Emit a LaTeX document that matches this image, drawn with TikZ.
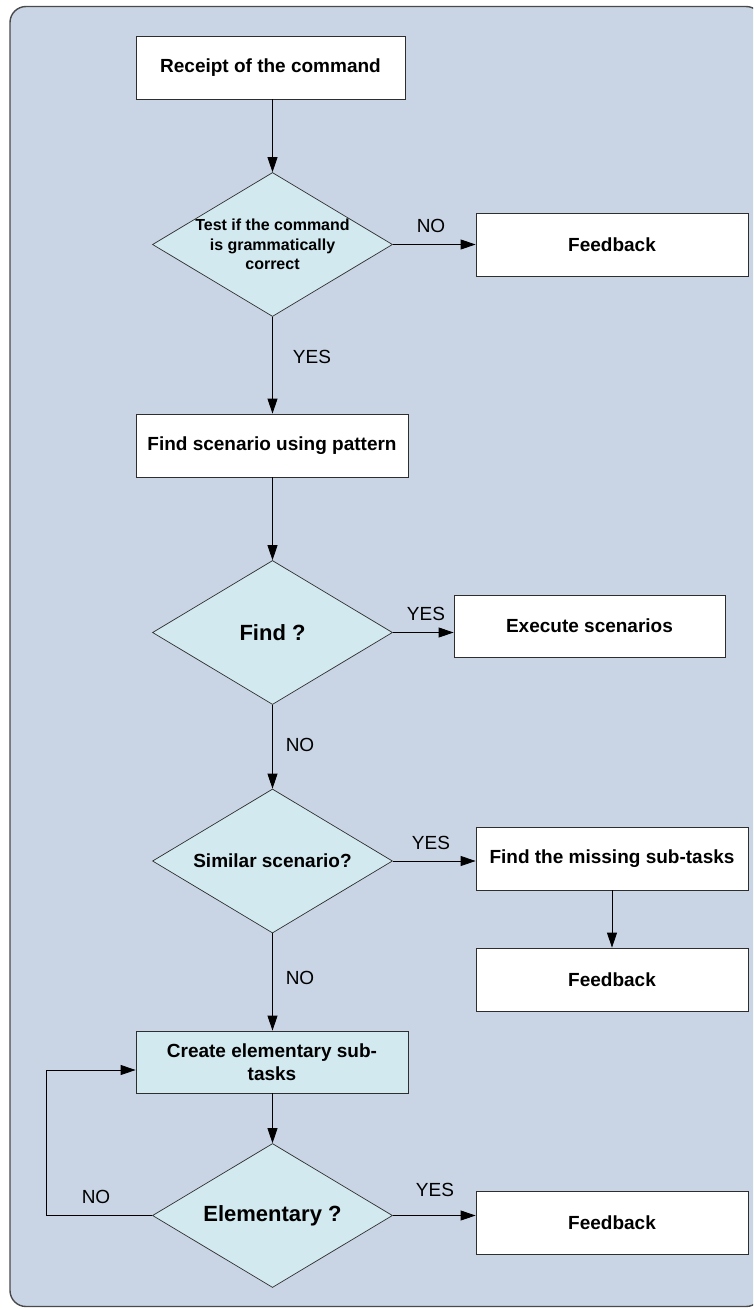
\documentclass[tikz,border=0pt]{standalone}
\usepackage{fontspec}
\setmainfont{Liberation Sans}
\usetikzlibrary{shapes.geometric,arrows.meta}

\definecolor{panelfill}{HTML}{C9D5E5}
\definecolor{paneledge}{HTML}{4A4A4A}
\definecolor{lightcyan}{HTML}{D2E9EF}
\definecolor{boxedge}{HTML}{2E2E2E}

\begin{document}
\begin{tikzpicture}[x=1pt,y=-1pt,
  process/.style={draw=boxedge, line width=0.8pt, fill=white, inner sep=0pt,
    minimum width=272pt, minimum height=63pt, align=center,
    font=\bfseries\fontsize{19}{23}\selectfont},
  decision/.style={diamond, draw=boxedge, line width=0.7pt, fill=lightcyan,
    inner sep=0pt, minimum width=240pt, minimum height=144pt},
  dtext/.style={inner sep=0pt, align=center, font=\bfseries\fontsize{#1}{19.5}\selectfont},
  dtext/.default=19,
  tag/.style={inner sep=0pt, font=\fontsize{19}{23}\selectfont},
  flow/.style={draw=black, line width=0.8pt, -{Triangle[length=15pt,width=10pt]}},
  link/.style={draw=black, line width=0.8pt}
]
\useasboundingbox (0,0) rectangle (753,1309);

% rounded panel behind the chart (runs off the right side)
\begin{scope}
  \clip (0,0) rectangle (753,1309);
  \draw[fill=panelfill, draw=paneledge, line width=1.4pt, rounded corners=16pt]
    (10,6.5) rectangle (762,1306.5);
\end{scope}

% process boxes
\node[process, minimum width=269pt] (receipt) at (270.5,67.5) {Receipt of the command};
\node[process] (fb1) at (612,244.5) {Feedback};
\node[process] (findpat) at (272,445.5) {Find scenario using pattern};
\node[process, minimum width=271pt, minimum height=62pt] (exec) at (589.5,626) {Execute scenarios};
\node[process] (missing) at (612,858.5) {Find the missing sub-tasks};
\node[process] (fb2) at (612,979.5) {Feedback};
\node[process, fill=lightcyan, minimum height=62pt] (create) at (272,1062) {Create elementary sub-\\tasks};
\node[process] (fb3) at (612,1222.5) {Feedback};

% decisions
\node[decision, label={[dtext=16]center:{Test if the command\\is grammatically\\correct}}] (test) at (272.5,244.5) {};
\node[decision, label={[dtext=22]center:{Find ?}}] (find) at (272.5,632.5) {};
\node[decision, label={[dtext=19]center:{Similar scenario?}}] (similar) at (272.5,861) {};
\node[decision, label={[dtext=22]center:{Elementary ?}}] (elem) at (272.5,1215.5) {};

% main flow
\draw[flow] (test.north |- receipt.south) -- (test.north);
\draw[flow] (test.east) -- (test.east -| fb1.west);
\draw[flow] (test.south) -- (test.south |- findpat.north);
\draw[flow] (find.north |- findpat.south) -- (find.north);
\draw[flow] (find.east) -- (find.east -| exec.west);
\draw[flow] (find.south) -- (similar.north);
\draw[flow] (similar.east) -- (similar.east -| missing.west);
\draw[flow] (missing.south) -- (fb2.north);
\draw[flow] (similar.south) -- (similar.south |- create.north);
\draw[flow] (elem.north |- create.south) -- (elem.north);
\draw[flow] (elem.east) -- (elem.east -| fb3.west);

% loop back from the last test
\coordinate (loopbot) at (46,1215.5);
\coordinate (looptop) at (46,1070);
\draw[link] (elem.west) -- (loopbot) -- (looptop);
\draw[flow] (looptop) -- (looptop -| create.west);

% branch labels
\node[tag] (no1) at (431,226) {NO};
\node[tag] (yes1) at (312,357) {YES};
\node[tag] (yes2) at (426,614) {YES};
\node[tag] (no2) at (300,745) {NO};
\node[tag] (yes3) at (431,843) {YES};
\node[tag] (no3) at (300,978) {NO};
\node[tag] (yes4) at (435,1189.5) {YES};
\node[tag] (no4) at (96,1197) {NO};
\end{tikzpicture}
\end{document}
